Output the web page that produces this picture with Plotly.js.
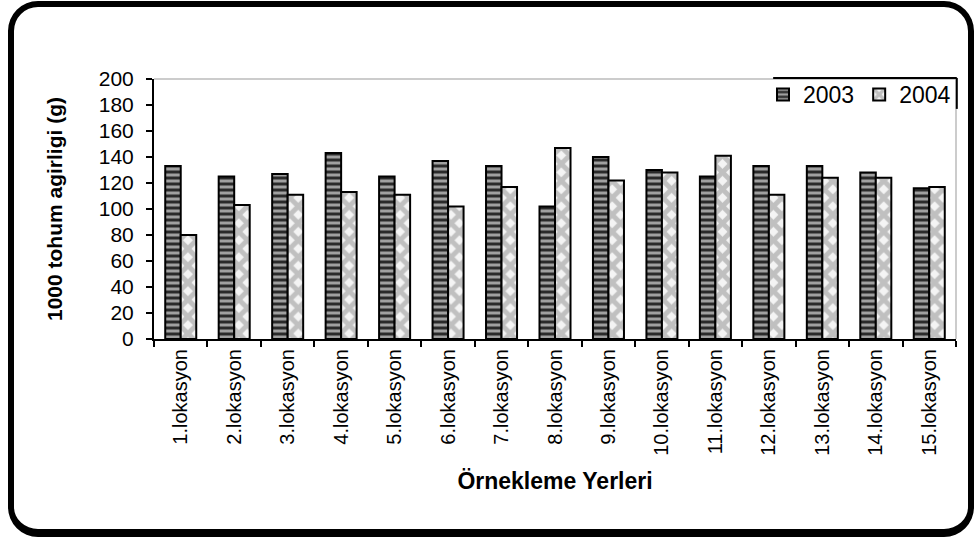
<!DOCTYPE html>
<html>
<head>
<meta charset="utf-8">
<script src="https://cdn.plot.ly/plotly-3.0.1.min.js"></script>
<style>
  html, body { margin: 0; padding: 0; background: #fff; }
  #wrap { position: relative; width: 974px; height: 543px; }
  #chart { position: absolute; left: 0; top: 0; width: 974px; height: 543px; }
  #frame {
    position: absolute; left: 8px; top: 1px; width: 954px; height: 522px;
    border: 6px solid #000; border-bottom-width: 8px; border-radius: 30px;
    pointer-events: none;
  }
</style>
</head>
<body>
<div id="wrap">
  <div id="chart"></div>
  <div id="frame"></div>
</div>
<script>
// Sampling sites and 1000-seed weight (g) for each year
const locations = ["1.lokasyon", "2.lokasyon", "3.lokasyon", "4.lokasyon", "5.lokasyon",
                   "6.lokasyon", "7.lokasyon", "8.lokasyon", "9.lokasyon", "10.lokasyon",
                   "11.lokasyon", "12.lokasyon", "13.lokasyon", "14.lokasyon", "15.lokasyon"];
const weights2003 = [133, 125, 127, 143, 125, 137, 133, 102, 140, 130, 125, 133, 133, 128, 116];
const weights2004 = [80, 103, 111, 113, 111, 102, 117, 147, 122, 128, 141, 111, 124, 124, 117];
const yTickValues = [0, 20, 40, 60, 80, 100, 120, 140, 160, 180, 200];

const font = "Liberation Sans, Arial, sans-serif";

const traces = [
  {
    type: "bar", name: "2003", x: locations, y: weights2003,
    marker: {
      color: "#9a9a9a",
      line: { color: "#000", width: 2 },
      pattern: { shape: "-", fgcolor: "#2a2a2a", bgcolor: "#a0a0a0", size: 6, solidity: 0.5 }
    }
  },
  {
    type: "bar", name: "2004", x: locations, y: weights2004,
    marker: {
      color: "#c4c4c4",
      line: { color: "#000", width: 2 },
      pattern: { shape: "x", fgcolor: "#c0c0c0", bgcolor: "#f4f4f4", size: 12, solidity: 0.65 }
    }
  }
];

const layout = {
  width: 974, height: 543,
  margin: { l: 154, r: 18, t: 79, b: 204 },
  paper_bgcolor: "#fff", plot_bgcolor: "#fff",
  font: { family: font, color: "#000" },
  barmode: "group", bargap: 0.42, bargroupgap: 0,
  showlegend: true,
  legend: {
    orientation: "h", x: 1, xanchor: "right", y: 1.023, yanchor: "top",
    bgcolor: "rgba(0,0,0,0)", borderwidth: 0,
    font: { size: 23, family: font, color: "#000" },
    itemwidth: 30, tracegroupgap: 0
  },
  xaxis: {
    type: "category",
    showline: true, linecolor: "#000", linewidth: 2,
    ticks: "outside", tickson: "boundaries", ticklen: 6, tickwidth: 2, tickcolor: "#000",
    tickangle: -90, tickfont: { size: 20, family: font },
    showgrid: false, zeroline: false, automargin: false,
    title: { text: "<b>Örnekleme Yerleri</b>", font: { size: 23, family: font }, standoff: 18 }
  },
  yaxis: {
    range: [0, 200], tickvals: yTickValues,
    showline: true, linecolor: "#000", linewidth: 2,
    ticks: "outside", ticklen: 6, tickwidth: 2, tickcolor: "#000",
    ticklabelstandoff: 8,
    tickfont: { size: 21, family: font },
    showgrid: false, zeroline: false, automargin: false,
    title: { text: "<b>1000 tohum agirligi (g)</b>", font: { size: 21, family: font }, standoff: 30 }
  },
  shapes: [
    // light plot-area border on top and right
    { type: "line", xref: "paper", yref: "paper", x0: 0, x1: 1, y0: 1, y1: 1,
      line: { color: "#bbbbbb", width: 1.5 } },
    { type: "line", xref: "paper", yref: "paper", x0: 1, x1: 1, y0: 0, y1: 1,
      line: { color: "#bbbbbb", width: 1.5 } },
    // legend box edges
    { type: "line", xref: "paper", yref: "paper", x0: 0.772, x1: 1.001, y0: 1.004, y1: 1.004,
      line: { color: "#000", width: 2 } },
    { type: "line", xref: "paper", yref: "paper", x0: 1.001, x1: 1.001, y0: 0.885, y1: 1.004,
      line: { color: "#000", width: 2 } }
  ]
};

Plotly.newPlot("chart", traces, layout, { staticPlot: true, displayModeBar: false });
</script>
</body>
</html>
